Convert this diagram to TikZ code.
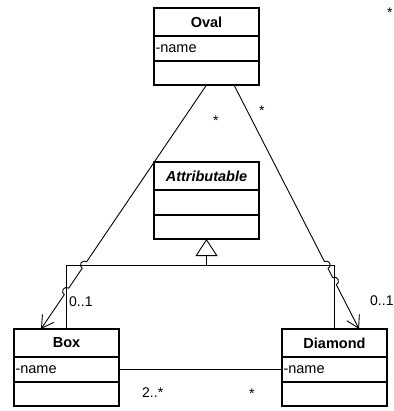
\documentclass[tikz,border=0pt]{standalone}
\usepackage{fontspec}
\setmainfont{Liberation Sans}
\usetikzlibrary{arrows.meta,calc}
\tikzset{
  row/.style={draw, line width=1.1pt, minimum width=105pt, inner sep=0pt, outer sep=0pt},
  ctitle/.style={row, minimum height=28pt, font=\fontsize{14.5}{17}\selectfont\bfseries},
  cattr/.style={row, minimum height=25pt, text width=102pt, align=left, font=\fontsize{14.5}{17}\selectfont},
  cops/.style={row, minimum height=24pt},
  conn/.style={line width=0.9pt},
  navi/.style={conn, -{Straight Barb[length=12pt,width=14pt,line width=0.9pt]}},
  gen/.style={conn, -{Triangle[open,length=17pt,width=22pt,line width=0.9pt]}},
  lbl/.style={font=\fontsize{14}{16}\selectfont, inner sep=0pt, anchor=base west},
}
\begin{document}
\begin{tikzpicture}[x=1pt,y=1pt]
\useasboundingbox[fill=white] (0,0) rectangle (393,-411);
% Oval
\node[ctitle] (oval) at (206.5,-22) {Oval};
\node[cattr, anchor=north] (oval-a) at (oval.south) {-name};
\node[cops, anchor=north] (oval-o) at (oval-a.south) {};
% Attributable
\node[ctitle] (attr) at (206.5,-176) {\itshape Attributable};
\node[cattr, anchor=north] (attr-a) at (attr.south) {};
\node[cops, anchor=north] (attr-o) at (attr-a.south) {};
% Box
\node[ctitle] (box) at (66.5,-343) {Box};
\node[cattr, anchor=north] (box-a) at (box.south) {-name};
\node[cops, anchor=north] (box-o) at (box-a.south) {};
% Diamond
\node[ctitle] (dia) at (334.5,-343) {Diamond};
\node[cattr, anchor=north] (dia-a) at (dia.south) {-name};
\node[cops, anchor=north] (dia-o) at (dia-a.south) {};

% generalization
\coordinate (jn) at ($(attr-o.south)+(0,-26)$);
\coordinate (lcorner) at (box.north |- jn);
\coordinate (rcorner) at (dia.north |- jn);
\draw[conn] (box.north) -- (lcorner) -- (rcorner) -- (dia.north);
\draw[gen] (jn) -- (attr-o.south);

% left association Oval -> Box
\coordinate (lA) at ($(oval-o.south)+(0,0)$);
\coordinate (lB) at ($(box.north)+(-25.5,0)$);
\coordinate (c1) at (intersection of lA--lB and lcorner--jn);
\coordinate (c2) at (intersection of lA--lB and box.north--lcorner);
\draw[navi] (lA) -- ($(c1)!4pt!(lA)$) arc[start angle=55.85, end angle=235.85, radius=4pt]
  -- ($(c2)!4pt!(lA)$) arc[start angle=55.85, end angle=235.85, radius=4pt] -- (lB);

% right association Oval -> Diamond
\coordinate (rA) at ($(oval-o.south)+(27.5,0)$);
\coordinate (rB) at ($(dia.north)+(24.5,0)$);
\coordinate (c3) at (intersection of rA--rB and jn--rcorner);
\coordinate (c4) at (intersection of rA--rB and rcorner--dia.north);
\draw[navi] (rA) -- ($(c3)!4pt!(rA)$) arc[start angle=117.13, end angle=-62.87, radius=4pt]
  -- ($(c4)!4pt!(rA)$) arc[start angle=117.13, end angle=-62.87, radius=4pt] -- (rB);

% Box -- Diamond
\draw[conn] (box-a.east) -- (dia-a.west);

% labels
\node[lbl] (m1) at (213,-126) {*};
\node[lbl] (m2) at (259,-116) {*};
\node[lbl] (m3) at (69,-306) {0..1};
\node[lbl] (m4) at (370,-305) {0..1};
\node[lbl] (m5) at (142,-397) {2..*};
\node[lbl] (m6) at (249,-398) {*};
\node[lbl] (m7) at (387,-18) {*};
\end{tikzpicture}
\end{document}
